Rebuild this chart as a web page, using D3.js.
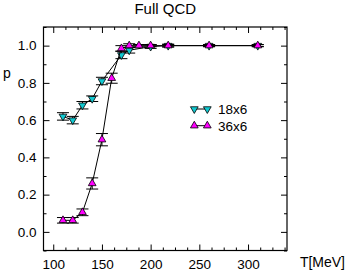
<!DOCTYPE html>
<html>
<head>
<meta charset="utf-8">
<script src="https://cdn.jsdelivr.net/npm/d3@7"></script>
<style>
  body { margin: 0; background: #fff; }
  text { font-family: Arial, Helvetica, "Liberation Sans", sans-serif; fill: #000; }
</style>
</head>
<body>
<div class="chart"></div>
<script>
// 18x6 lattice
const temps18 = [110, 120, 130, 140, 150, 170, 178, 200, 218, 260, 310];
const p18 = [0.62, 0.60, 0.68, 0.715, 0.81, 0.95, 0.975, 0.995, 1.0, 1.0, 1.0];
const err18 = [0.02, 0.02, 0.02, 0.015, 0.02, 0.02, 0.015, 0.01, 0.008, 0.005, 0.005];

// 36x6 lattice
const temps36 = [110, 120, 130, 140, 150, 160, 170, 178, 188, 200, 218, 260, 310];
const p36 = [0.062, 0.062, 0.105, 0.26, 0.495, 0.825, 0.985, 1.0, 1.0, 1.0, 1.0, 1.0, 1.0];
const err36 = [0.015, 0.015, 0.018, 0.03, 0.033, 0.027, 0.015, 0.01, 0.006, 0.006, 0.006, 0.006, 0.006];

const xMajor = [100, 150, 200, 250, 300];
const yMajor = [0, 0.2, 0.4, 0.6, 0.8, 1.0];

const series = [
    { name: '18x6', color: '#10c8d0', down: true, t: temps18, p: p18, e: err18 },
    { name: '36x6', color: '#ff00ff', down: false, t: temps36, p: p36, e: err36 }
];

const width = 347, height = 273;
const plotL = 43.5, plotR = 287, plotT = 27, plotB = 250.5;

const x = d3.scaleLinear().domain([90, 340]).range([plotL, plotR]);
const y = d3.scaleLinear().domain([-0.1, 1.1]).range([plotB, plotT]);

const xMinor = d3.range(100, 340, 12.5).filter(v => !xMajor.includes(v));
const yMinor = d3.range(-0.1, 1.1, 0.1).map(v => +v.toFixed(1)).filter(v => !yMajor.includes(v));

const svg = d3.select('.chart')
    .append('svg')
        .attr('width', width)
        .attr('height', height);

function tickStyle(g) {
    g.select('.domain').remove();
    g.selectAll('line').attr('stroke', '#000').attr('stroke-width', 1);
    g.selectAll('text').style('font-size', '13.5px');
}

// bottom / top axes
svg.append('g')
    .attr('transform', `translate(0,${plotB})`)
    .call(d3.axisBottom(x).tickValues(xMajor).tickSize(-6).tickPadding(8.5).tickFormat(d3.format('d')))
    .call(tickStyle);
svg.append('g')
    .attr('transform', `translate(0,${plotB})`)
    .call(d3.axisBottom(x).tickValues(xMinor).tickSize(-3).tickFormat(''))
    .call(tickStyle);
svg.append('g')
    .attr('transform', `translate(0,${plotT})`)
    .call(d3.axisTop(x).tickValues(xMajor).tickSize(-6).tickFormat(''))
    .call(tickStyle);
svg.append('g')
    .attr('transform', `translate(0,${plotT})`)
    .call(d3.axisTop(x).tickValues(xMinor).tickSize(-3).tickFormat(''))
    .call(tickStyle);

// left / right axes
svg.append('g')
    .attr('transform', `translate(${plotL},0)`)
    .call(d3.axisLeft(y).tickValues(yMajor).tickSize(-6).tickPadding(7).tickFormat(d3.format('.1f')))
    .call(tickStyle);
svg.append('g')
    .attr('transform', `translate(${plotL},0)`)
    .call(d3.axisLeft(y).tickValues(yMinor).tickSize(-3).tickFormat(''))
    .call(tickStyle);
svg.append('g')
    .attr('transform', `translate(${plotR},0)`)
    .call(d3.axisRight(y).tickValues(yMajor).tickSize(-6).tickFormat(''))
    .call(tickStyle);
svg.append('g')
    .attr('transform', `translate(${plotR},0)`)
    .call(d3.axisRight(y).tickValues(yMinor).tickSize(-3).tickFormat(''))
    .call(tickStyle);

// frame
svg.append('rect')
    .attr('x', plotL)
    .attr('y', plotT)
    .attr('width', plotR - plotL)
    .attr('height', plotB - plotT)
    .attr('fill', 'none')
    .attr('stroke', '#000')
    .attr('stroke-width', 1.2);

// titles
svg.append('text')
    .attr('x', (plotL + plotR) / 2)
    .attr('y', 14)
    .attr('text-anchor', 'middle')
    .style('font-size', '15px')
    .text('Full QCD');
svg.append('text')
    .attr('x', 3)
    .attr('y', 78)
    .style('font-size', '14px')
    .text('p');
svg.append('text')
    .attr('x', 345)
    .attr('y', 267)
    .attr('text-anchor', 'end')
    .style('font-size', '14px')
    .text('T[MeV]');

const line = d3.line().x(d => x(d[0])).y(d => y(d[1]));
const tri = d3.symbol(d3.symbolTriangle, 26);

series.forEach(s => {
    const pts = s.t.map((t, i) => [t, s.p[i], s.e[i]]);
    const g = svg.append('g');

    g.append('path')
        .attr('d', line(pts))
        .attr('fill', 'none')
        .attr('stroke', '#000')
        .attr('stroke-width', 1);

    const eb = g.selectAll('g.err')
        .data(pts)
        .enter()
        .append('g')
        .attr('stroke', '#000')
        .attr('stroke-width', 1);
    eb.append('line')
        .attr('x1', d => x(d[0])).attr('x2', d => x(d[0]))
        .attr('y1', d => y(d[1] - d[2])).attr('y2', d => y(d[1] + d[2]));
    eb.append('line')
        .attr('x1', d => x(d[0]) - 6).attr('x2', d => x(d[0]) + 6)
        .attr('y1', d => y(d[1] - d[2])).attr('y2', d => y(d[1] - d[2]));
    eb.append('line')
        .attr('x1', d => x(d[0]) - 6).attr('x2', d => x(d[0]) + 6)
        .attr('y1', d => y(d[1] + d[2])).attr('y2', d => y(d[1] + d[2]));

    g.selectAll('path.mk')
        .data(pts)
        .enter()
        .append('path')
        .attr('d', tri)
        .attr('transform', d => `translate(${x(d[0])},${y(d[1])}) rotate(${s.down ? 180 : 0})`)
        .attr('fill', s.color)
        .attr('stroke', '#000')
        .attr('stroke-width', 0.8);
});

// legend
const legend = svg.append('g');
series.forEach((s, i) => {
    const ly = 109 + i * 16.7;
    legend.append('line')
        .attr('x1', 194.3).attr('x2', 207.3)
        .attr('y1', ly).attr('y2', ly)
        .attr('stroke', '#000');
    [194.3, 207.3].forEach(lx => {
        legend.append('path')
            .attr('d', tri)
            .attr('transform', `translate(${lx},${ly}) rotate(${s.down ? 180 : 0})`)
            .attr('fill', s.color)
            .attr('stroke', '#000')
            .attr('stroke-width', 0.8);
    });
    legend.append('text')
        .attr('x', 218)
        .attr('y', ly + 5)
        .style('font-size', '13.5px')
        .text(s.name);
});
</script>
</body>
</html>
